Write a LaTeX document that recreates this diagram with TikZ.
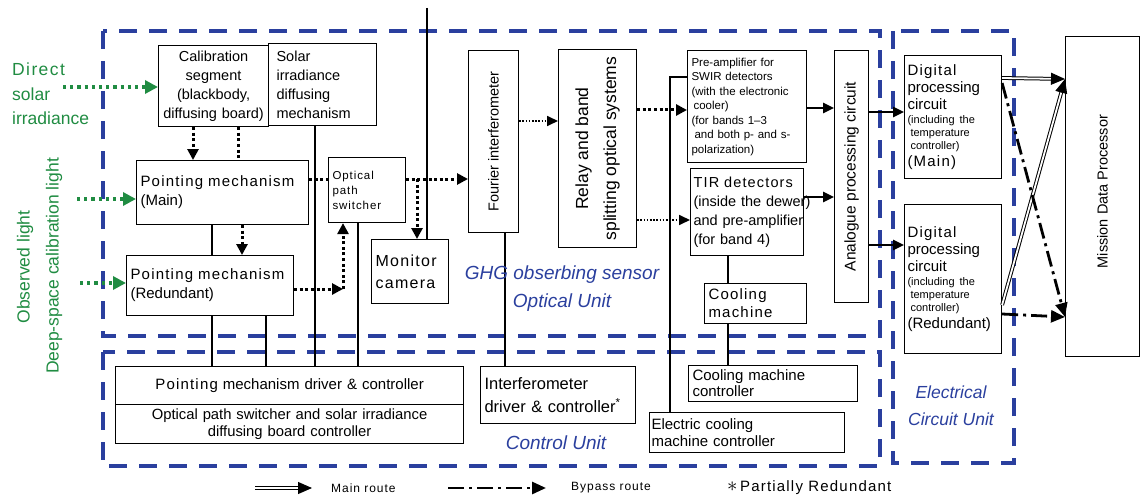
\documentclass[tikz,border=0pt]{standalone}
\usepackage{fontspec}
\setmainfont{Liberation Sans}
\usetikzlibrary{arrows.meta,calc}
\definecolor{unitblue}{RGB}{42,63,158}
\definecolor{lightgreen}{RGB}{32,140,66}
\newcommand{\spc}[1]{{\addfontfeature{LetterSpace=8}#1}}

\begin{document}
\begin{tikzpicture}[x=1pt,y=-1pt,
    box/.style={draw, line width=1.1pt, anchor=north west, inner xsep=4pt, inner ysep=1pt, align=left},
    rotlbl/.style={rotate=90, align=center, inner sep=0pt},
    unitframe/.style={draw=unitblue, line width=3.6pt, dash pattern=on 18pt off 12pt},
    unitlbl/.style={text=unitblue, font=\fontsize{19}{28}\selectfont\itshape, align=center},
    greenlbl/.style={text=lightgreen, font=\fontsize{17.5}{24.5}\selectfont, align=left, inner sep=0pt},
    greenarr/.style={draw=lightgreen, line width=3.2pt, dash pattern=on 3.2pt off 4pt, -{Triangle[length=13pt,width=13pt]}},
    dotline/.style={line width=3pt, dash pattern=on 3pt off 2.6pt},
    dotarr/.style={dotline, -{Triangle[length=11pt,width=11pt]}},
    thinarr/.style={line width=1.7pt, dash pattern=on 1.7pt off 1.5pt, -{Triangle[length=11pt,width=10pt]}},
    wire/.style={line width=2.1pt},
    solidarr/.style={line width=2.5pt, -{Triangle[length=11pt,width=10pt]}},
    mainline/.style={double, line width=1pt, double distance=1.8pt, shorten >=12pt},
    maintip/.style={line width=1pt, -{Triangle[length=14pt,width=12pt]}},
    bypass/.style={line width=2.8pt, dash pattern=on 16pt off 5pt on 3pt off 5pt, -{Triangle[length=14pt,width=12pt]}},
    legend/.style={anchor=west, inner sep=0pt, font=\fontsize{12}{14}\selectfont}
  ]
  \useasboundingbox (0,0) rectangle (1140,500);

  \draw[unitframe] (103,31) rectangle (880,336);
  \draw[unitframe] (103,352) rectangle (880,466);
  \draw[unitframe] (893,31) rectangle (1014,463);

  \node[box, align=center, inner xsep=1pt, text width=108pt, minimum height=81pt, font=\fontsize{14.5}{19}\selectfont] (cal) at (158,45) {Calibration\\segment\\(blackbody,\\diffusing board)};
  \node[box, inner xsep=8pt, text width=92pt, minimum height=82pt, font=\fontsize{14.5}{19}\selectfont] (sol) at (268,43) {Solar\\irradiance\\diffusing\\mechanism};
  \node[box, text width=164pt, minimum height=64pt, font=\fontsize{15}{19}\selectfont] (pmain) at (136,160) {\spc{Pointing mechanism}\\(Main)};
  \node[box, text width=159pt, minimum height=60pt, font=\fontsize{15}{19}\selectfont] (pred) at (126,255) {\spc{Pointing mechanism}\\(Redundant)};
  \node[box, text width=69pt, minimum height=65pt, font=\fontsize{11.5}{15}\selectfont] (opsw) at (328,157) {\spc{Optical}\\\spc{path}\\\spc{switcher}};
  \node[box, text width=69pt, minimum height=64pt, font=\fontsize{16}{22}\selectfont] (mon) at (371,239) {\spc{Monitor}\\\spc{camera}};
  \node[box, minimum width=50pt, minimum height=182pt, label={[rotlbl, font=\fontsize{14.5}{17}\selectfont]center:Fourier interferometer}] (four) at (468,50) {};
  \node[box, minimum width=78pt, minimum height=198pt, label={[rotlbl, font=\fontsize{17.5}{28}\selectfont]center:Relay and band\\splitting optical systems}] (relay) at (558,49) {};
  \node[box, text width=111pt, minimum height=112pt, font=\fontsize{11.5}{14.5}\selectfont] (pre) at (687,50) {Pre-amplifier for\\SWIR detectors\\(with the electronic\\\hspace{2pt}cooler)\\(for bands 1--3\\\hspace{3pt}and both p- and s-\\polarization)};
  \node[box, inner xsep=3pt, text width=107pt, minimum height=87pt, font=\fontsize{14.5}{19}\selectfont] (tir) at (690,168) {\mbox{\spc{TIR detectors}}\\\mbox{(inside the dewer)}\\\mbox{and pre-amplifier}\\(for band 4)};
  \node[box, text width=94pt, minimum height=40pt, font=\fontsize{15}{18}\selectfont] (cm) at (704,283) {\spc{Cooling}\\\spc{machine}};
  \node[box, minimum width=34pt, minimum height=252pt, label={[rotlbl, font=\fontsize{15.5}{18}\selectfont]center:Analogue processing circuit}] (ana) at (834,50) {};
  \node[box, inner xsep=3pt, text width=91pt, minimum height=123pt, font=\fontsize{15}{17}\selectfont] (dmain) at (904,55) {\spc{Digital}\\processing\\circuit\\[-3pt]{\fontsize{11}{13}\selectfont(including the}\\[-4pt]{\fontsize{11}{13}\selectfont\hspace{3pt}temperature}\\[-4pt]{\fontsize{11}{13}\selectfont\hspace{3pt}controller)}\\\spc{(Main)}};
  \node[box, inner xsep=3pt, text width=91pt, minimum height=149pt, font=\fontsize{15}{17}\selectfont] (dred) at (904,204) {\spc{Digital}\\processing\\circuit\\[-3pt]{\fontsize{11}{13}\selectfont(including the}\\[-4pt]{\fontsize{11}{13}\selectfont\hspace{3pt}temperature}\\[-4pt]{\fontsize{11}{13}\selectfont\hspace{3pt}controller)}\\(Redundant)};
  \node[box, minimum width=74pt, minimum height=320pt, label={[rotlbl, xshift=5pt, font=\fontsize{14.5}{17}\selectfont]center:Mission Data Processor}] (mdp) at (1065,36) {};

  \node[box, align=center, inner xsep=1pt, text width=346pt, minimum height=38pt, font=\fontsize{15}{18}\selectfont] (pdrv) at (115,366) {\spc{Pointing} mechanism driver \& controller};
  \node[box, align=center, inner xsep=1pt, text width=346pt, minimum height=39pt, font=\fontsize{14.8}{16.5}\selectfont] (osdrv) at (115,404) {Optical path switcher and solar irradiance\\diffusing board controller};
  \node[box, text width=147pt, minimum height=57pt, font=\fontsize{16.5}{23}\selectfont] (intdrv) at (480,366) {Interferometer\\driver \& controller\textsuperscript{*}};
  \node[box, text width=161pt, minimum height=36pt, font=\fontsize{15}{16}\selectfont] (cmctl) at (688,365) {Cooling machine\\controller};
  \node[box, inner xsep=2pt, text width=191pt, minimum height=40pt, font=\fontsize{15}{17}\selectfont] (ecmctl) at (649,412) {Electric cooling\\machine controller};

  \node[greenlbl, anchor=north west] (dsunlbl) at (12,63) {\spc{Direct}\\solar\\irradiance};
  \node[greenlbl, rotate=90] (obslbl) at (25,267) {Observed light};
  \node[greenlbl, rotate=90] (deeplbl) at (54,266) {Deep-space calibration light};
  \coordinate (dsun) at (63,87);
  \coordinate (obs) at (77,199);
  \coordinate (deep) at (80,283);
  \draw[greenarr] (dsun) -- (cal.west |- dsun);
  \draw[greenarr] (obs) -- (pmain.west |- obs);
  \draw[greenarr] (deep) -- (pred.west |- deep);

  \draw[dotarr] (cal.south -| 193,0) -- (pmain.north -| 193,0);
  \draw[dotline] (cal.south -| 238,0) -- (pmain.north -| 238,0);
  \draw[dotarr] (pmain.south -| 242,0) -- (pred.north -| 242,0);
  \draw[dotline] (pmain.east |- 0,179) -- (opsw.west |- 0,179);
  \draw[dotarr] (opsw.east |- 0,179) -- (four.west |- 0,179);
  \coordinate (split) at (417,179);
  \draw[dotarr] (split) -- (mon.north -| split);
  \coordinate (bend) at (343,289);
  \draw[dotarr] (pred.east |- bend) -- (bend);
  \draw[dotarr] (bend) -- (opsw.south -| bend);
  \draw[thinarr] (four.east |- 0,121) -- (relay.west |- 0,121);
  \draw[dotarr] (relay.east |- 0,110) -- (pre.west |- 0,110);
  \draw[thinarr] (relay.east |- 0,220) -- (tir.west |- 0,220);

  \coordinate (feed) at (427,8);
  \draw[wire] (feed) -- (mon.north -| feed);
  \draw[wire] (sol.south -| 315,0) -- (pdrv.north -| 315,0);
  \draw[wire] (pmain.south -| 212,0) -- (pred.north -| 212,0);
  \draw[wire] (pred.south -| 212,0) -- (pdrv.north -| 212,0);
  \draw[wire] (pred.south -| 266,0) -- (pdrv.north -| 266,0);
  \draw[wire] (opsw.south -| 358,0) -- (pdrv.north -| 358,0);
  \draw[wire] (four.south -| 505,0) -- (intdrv.north -| 505,0);
  \draw[wire] (pre.west |- 0,77) -| (ecmctl.north -| 670,0);
  \draw[wire] (tir.south -| 728,0) -- (cm.north -| 728,0);
  \draw[wire] (cm.south -| 728,0) -- (cmctl.north -| 728,0);

  \draw[solidarr] (pre.east |- 0,108) -- (ana.west |- 0,108);
  \draw[solidarr] (tir.east |- 0,197) -- (ana.west |- 0,197);
  \draw[solidarr] (ana.east |- 0,112) -- (dmain.west |- 0,112);
  \draw[solidarr] (ana.east |- 0,245) -- (dred.west |- 0,245);

  \coordinate (mdpin) at (mdp.west |- 0,79);
  \draw[mainline] (dmain.east |- 0,78) -- (mdpin);
  \draw[maintip] ($(mdpin)!14pt!(dmain.east |- 0,78)$) -- (mdpin);
  \draw[mainline] (dred.east |- 0,305) -- (mdpin);
  \draw[maintip] ($(mdpin)!14pt!(dred.east |- 0,305)$) -- (mdpin);
  \draw[bypass] (dmain.east |- 0,83) -- (mdp.west |- 0,317);
  \draw[bypass] (dred.east |- 0,314) -- (mdp.west |- 0,317);

  \node[unitlbl] (optlbl) at (562,289) {GHG obserbing sensor\\Optical Unit};
  \node[unitlbl] (ctllbl) at (556,443) {Control Unit};
  \node[unitlbl, font=\fontsize{17.5}{27}\selectfont\itshape] (eculbl) at (951,406) {Electrical\\Circuit Unit};

  \coordinate (mr0) at (255,488);
  \coordinate (mr1) at (312,488);
  \coordinate (bp0) at (448,488);
  \coordinate (bp1) at (546,488);
  \draw[mainline] (mr0) -- (mr1);
  \draw[maintip] ($(mr1)!14pt!(mr0)$) -- (mr1);
  \draw[bypass] (bp0) -- (bp1);
  \node[legend] (mrlbl) at (331,488) {\spc{Main route}};
  \node[legend] (bplbl) at (571,488) {\spc{Bypass route}};
  \node[legend, font=\fontsize{15}{18}\selectfont] (prlbl) at (727,488) {{\fontsize{21}{21}\selectfont$\ast$}\,\spc{Partially Redundant}};
\end{tikzpicture}
\end{document}
